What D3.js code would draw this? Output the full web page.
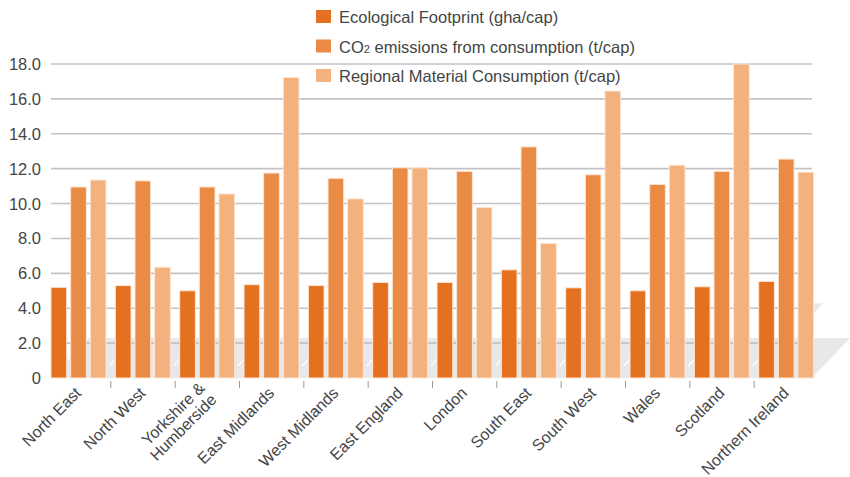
<!DOCTYPE html>
<html><head><meta charset="utf-8">
<script src="https://cdn.jsdelivr.net/npm/d3@7"></script>
<style>body{margin:0;background:#fff}svg{display:block;font-family:"Liberation Sans",Arial,sans-serif}</style>
</head><body>
<svg id="c" width="850" height="477"></svg>
<script>
const regions = ["North East","North West","Yorkshire & Humberside","East Midlands","West Midlands","East England","London","South East","South West","Wales","Scotland","Northern Ireland"];
const ecoFootprint = [5.2,5.3,5.0,5.35,5.3,5.48,5.48,6.2,5.17,5.0,5.23,5.54];
const co2 = [10.95,11.3,10.95,11.75,11.45,12.05,11.85,13.25,11.65,11.1,11.85,12.55];
const rmc = [11.35,6.35,10.55,17.23,10.27,12.05,9.78,7.72,16.45,12.2,18.0,11.8];
const seriesNames = ["Ecological Footprint (gha/cap)","CO2 emissions from consumption (t/cap)","Regional Material Consumption (t/cap)"];
const yTicks = [0,2,4,6,8,10,12,14,16,18];
const colors = ["#e4711f","#e98b45","#f3b17d"];

const svg = d3.select("#c");
const x0 = 51, x1 = 823;
const x = d3.scaleBand().domain(regions).range([x0, x1]).paddingInner(0).paddingOuter(0);
const xs = d3.scaleBand().domain([0,1,2]).range([0, 55]).paddingInner(0.2);
const y = d3.scaleLinear().domain([0,18]).range([378,64]);
const FS = 16.5;

// floor
const depthX = 38, depthY = 40;
svg.append("polygon")
  .attr("points", [[x0,y(0)],[812,y(0)],[812+depthX,y(0)-depthY],[x0+depthX,y(0)-depthY]].map(p=>p.join(",")).join(" "))
  .attr("fill","#e8e8ea");
svg.append("polygon")
  .attr("points", [[812,y(4)-5],[823,y(4)-5],[812,y(4)+7]].map(p=>p.join(",")).join(" "))
  .attr("fill","#e8e8ea");
svg.append("g").selectAll("line").data(regions.slice(1)).join("line")
  .attr("x1", d=>x(d)-6).attr("y1", y(0)-12)
  .attr("x2", d=>x(d)+6).attr("y2", y(0)-26)
  .attr("stroke","#fff").attr("stroke-width",1.2);

// gridlines
svg.append("g").selectAll("line").data(yTicks.filter(d=>d>0)).join("line")
  .attr("x1", x0).attr("x2", 812)
  .attr("y1", d=>y(d)).attr("y2", d=>y(d))
  .attr("stroke","#c3c3c7").attr("stroke-width",1.6);

// y axis labels
svg.append("g").selectAll("text").data(yTicks).join("text")
  .attr("x", 41).attr("y", d=>y(d)+6)
  .attr("text-anchor","end").attr("font-size",FS).attr("fill","#454545")
  .text(d=> d===0 ? "0" : d.toFixed(1));

// bars
const data = regions.map((r,i)=>({r, v:[ecoFootprint[i], co2[i], rmc[i]]}));
const g = svg.append("g").selectAll("g").data(data).join("g")
  .attr("transform", d=>`translate(${x(d.r)},0)`);
g.selectAll("rect").data(d=>d.v.map((v,k)=>({v,k}))).join("rect")
  .attr("x", d=>xs(d.k)).attr("width", xs.bandwidth())
  .attr("y", d=>y(d.v)).attr("height", d=>y(0)-y(d.v))
  .attr("fill", d=>colors[d.k])
  .attr("stroke","#fde6d4").attr("stroke-width",1);

// ticks between groups
svg.append("g").selectAll("line").data(regions.slice(1)).join("line")
  .attr("x1", d=>x(d)-4.5).attr("x2", d=>x(d)-4.5)
  .attr("y1", 381).attr("y2", 388)
  .attr("stroke","#9a9a9a").attr("stroke-width",1);

// x labels
const lab = svg.append("g").selectAll("text").data(regions).join("text")
  .attr("transform", d=>`translate(${x(d)+x.bandwidth()/2-1},${394}) rotate(-45)`)
  .attr("text-anchor","end").attr("font-size",16).attr("fill","#454545");
lab.each(function(d){
  const t = d3.select(this);
  if (d === "Yorkshire & Humberside") {
    t.append("tspan").attr("x",0).attr("dy","-0.45em").text("Yorkshire &");
    t.append("tspan").attr("x",0).attr("dy","1.05em").text("Humberside");
  } else t.text(d);
});

// legend
const leg = svg.append("g").selectAll("g").data(seriesNames).join("g")
  .attr("transform",(d,i)=>`translate(316,${10+i*29.5})`);
leg.append("rect").attr("width",15).attr("height",13).attr("fill",(d,i)=>colors[i]);
leg.append("text").attr("x",23).attr("y",13).attr("font-size",FS).attr("fill","#454545")
  .each(function(d){
    const t = d3.select(this);
    if (d.startsWith("CO2")) {
      t.append("tspan").text("CO");
      t.append("tspan").attr("font-size",11).text("2");
      t.append("tspan").text(d.slice(3));
    } else t.text(d);
  });
</script>
</body></html>
